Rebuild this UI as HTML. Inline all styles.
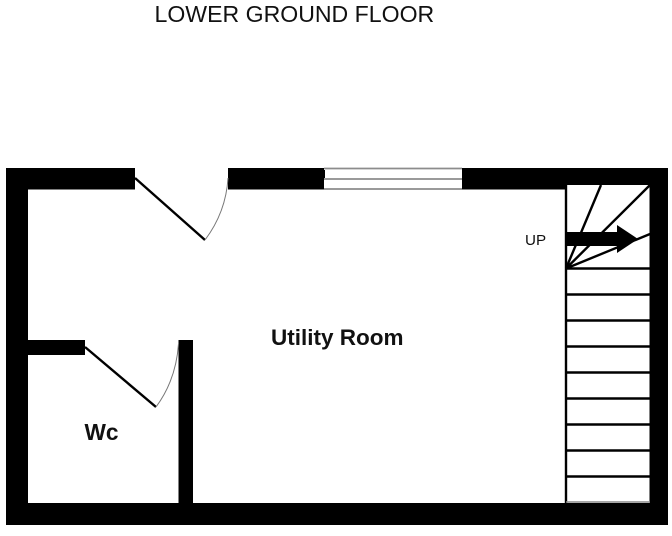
<!DOCTYPE html>
<html><head><meta charset="utf-8"><style>
html,body{margin:0;padding:0;background:#fff}
svg{display:block}
text{font-family:"Liberation Sans",sans-serif}
</style></head><body>
<svg width="672" height="536" viewBox="0 0 672 536" xmlns="http://www.w3.org/2000/svg">
<rect width="672" height="536" fill="#fff"/>
<g fill="#000">
<rect x="6" y="168" width="129" height="21.500"/>
<rect x="228" y="168" width="96" height="21.500"/>
<rect x="462" y="168" width="206" height="21.500"/>
<rect x="6" y="168" width="22" height="357"/>
<rect x="649.500" y="168" width="18.500" height="357"/>
<rect x="6" y="503" width="662" height="22"/>
<rect x="28" y="340" width="57" height="15"/>
<rect x="178.500" y="340" width="14.500" height="163"/>
</g>
<rect x="567" y="185" width="82.500" height="317" fill="#fff"/>
<g stroke="#000" stroke-width="2.400" fill="none">
<path d="M566 184V503"/>
<path d="M566 268.500H650M566 294.500H650M566 320.500H650M566 346.500H650M566 372.500H650M566 398.500H650M566 424.500H650M566 450.500H650M566 476.500H650"/>
<path d="M566 268.500L601 185M566 268.500L650 185M566 268.500L650 234"/>
<path d="M135 178L205 240M85 347L156 407"/>
</g>
<path d="M566 502H650" stroke="#888" stroke-width="1.500"/>
<path d="M566 232H617V225L638 239L617 253V246H566Z" fill="#000"/>
<path d="M205 240Q226 212 228 178" fill="none" stroke="#777" stroke-width="1"/>
<path d="M156 407Q176 380 178.500 344" fill="none" stroke="#777" stroke-width="1"/>
<g stroke="#8c8c8c" stroke-width="1.800" fill="none">
<path d="M324 168.500H462M324 179H462M324 189H462"/>
</g>
<path d="M324.500 170V178" stroke="#000" stroke-width="1"/>
<text x="154.500" y="22" font-size="23.100" fill="#111">LOWER GROUND FLOOR</text>
<text x="525" y="245" font-size="15.200" fill="#111">UP</text>
<text x="271" y="345" font-size="22.500" font-weight="bold" fill="#111">Utility Room</text>
<text x="84.500" y="440" font-size="22.700" font-weight="bold" fill="#111">Wc</text>
</svg>
</body></html>
